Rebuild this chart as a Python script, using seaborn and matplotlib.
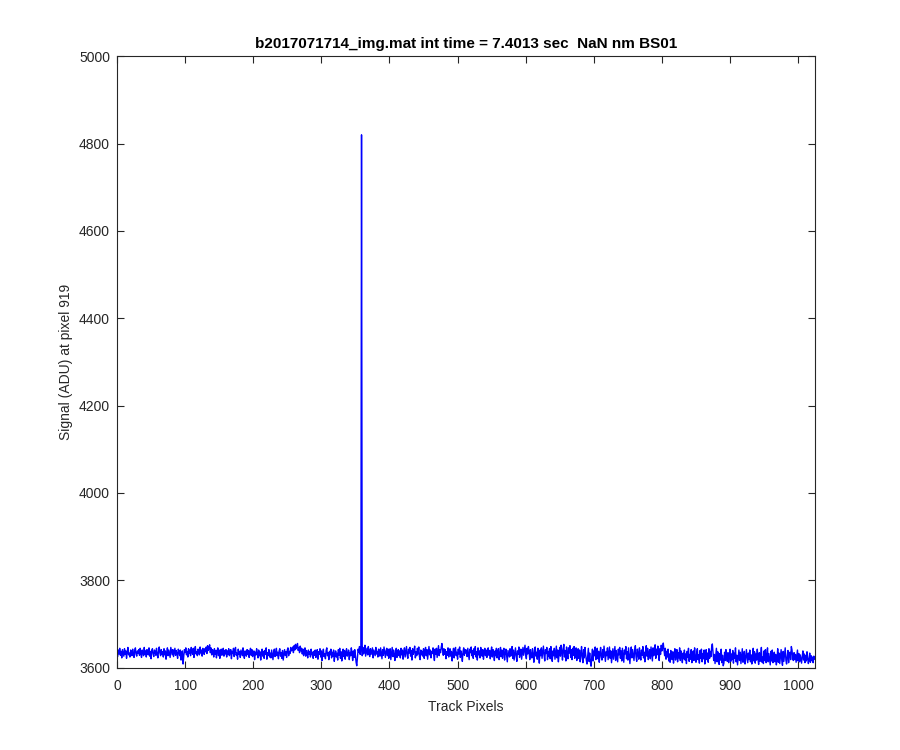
import matplotlib
matplotlib.use("Agg")
import matplotlib.pyplot as plt
import seaborn as sns
import pandas as pd

# Signal values (ADU), one per track pixel
signal_rows = [
 [3625,3640,3631,3644,3628,3637,3622,3641,3634,3626,3643,3630,3638,3621,3635,3646,3629,3633,3624,3640,3636,3627,3642,3631,3623,3639,3645,3630,3626,3638,3633,3641],
 [3628,3644,3632,3623,3640,3635,3627,3646,3630,3638,3624,3641,3633,3629,3645,3626,3637,3620,3639,3643,3631,3625,3640,3636,3628,3644,3630,3622,3638,3647,3633,3627],
 [3641,3630,3636,3624,3643,3629,3638,3619,3634,3645,3627,3640,3632,3623,3646,3637,3629,3641,3625,3635,3644,3628,3639,3631,3621,3642,3636,3627,3640,3617,3633,3638],
 [3608,3626,3641,3634,3645,3629,3637,3624,3643,3632,3640,3627,3646,3635,3630,3644,3623,3639,3648,3631,3636,3627,3642,3638,3629,3647,3633,3640,3626,3644,3635,3630],
 [3643,3636,3647,3632,3650,3639,3644,3652,3634,3645,3629,3641,3637,3624,3643,3630,3639,3622,3638,3645,3627,3640,3621,3635,3642,3628,3637,3644,3626,3639,3631,3641],
 [3624,3638,3630,3643,3627,3635,3641,3620,3637,3632,3644,3625,3639,3646,3628,3633,3619,3642,3630,3637,3623,3640,3634,3627,3645,3629,3621,3638,3635,3626,3641,3630],
 [3639,3623,3636,3644,3628,3641,3625,3634,3638,3618,3635,3629,3643,3631,3622,3640,3627,3636,3617,3633,3642,3626,3637,3621,3639,3630,3645,3619,3634,3628,3641,3624],
 [3633,3622,3640,3629,3618,3636,3642,3625,3631,3644,3627,3635,3620,3638,3643,3626,3634,3621,3639,3617,3630,3641,3628,3636,3623,3640,3645,3627,3637,3632,3646,3638],
 [3641,3647,3634,3650,3640,3653,3643,3648,3655,3639,3646,3634,3649,3638,3644,3631,3642,3627,3637,3645,3626,3639,3633,3622,3640,3630,3636,3624,3642,3629,3635,3621],
 [3637,3628,3640,3623,3634,3641,3619,3636,3630,3643,3624,3638,3616,3633,3642,3625,3631,3620,3639,3645,3627,3634,3618,3637,3629,3642,3622,3635,3626,3640,3614,3631],
 [3638,3624,3633,3617,3641,3628,3644,3621,3636,3615,3630,3642,3625,3639,3619,3634,3643,3626,3631,3640,3618,3635,3627,3645,3632,3616,3638,3623,3641,3629,3612,3604],
 [3624,3642,3635,3648,3630,3640,4820,3627,3646,3631,3638,3651,3626,3635,3644,3629,3648,3633,3625,3643,3630,3638,3645,3622,3640,3634,3627,3646,3631,3637,3624,3642],
 [3639,3626,3645,3632,3620,3641,3628,3647,3634,3623,3638,3644,3627,3642,3621,3636,3643,3618,3633,3646,3625,3640,3630,3616,3637,3644,3623,3635,3641,3627,3638,3622],
 [3644,3629,3640,3619,3635,3645,3624,3637,3648,3628,3621,3642,3633,3646,3626,3639,3617,3643,3630,3638,3649,3622,3636,3627,3644,3631,3647,3625,3618,3640,3629,3637],
 [3626,3643,3621,3638,3646,3627,3641,3619,3634,3648,3629,3640,3622,3637,3632,3645,3628,3616,3642,3630,3644,3623,3636,3650,3627,3641,3634,3646,3655,3640,3628,3643],
 [3630,3641,3620,3636,3628,3645,3624,3639,3643,3626,3637,3615,3632,3644,3622,3640,3646,3627,3635,3619,3642,3631,3647,3623,3638,3629,3614,3636,3645,3628,3641,3633],
 [3640,3625,3644,3631,3618,3642,3634,3647,3627,3639,3621,3643,3630,3648,3624,3636,3617,3645,3629,3638,3622,3646,3633,3626,3641,3619,3635,3644,3627,3640,3623,3637],
 [3645,3628,3639,3620,3636,3647,3624,3641,3632,3616,3638,3627,3644,3622,3635,3643,3618,3630,3646,3625,3640,3621,3637,3644,3617,3633,3642,3628,3613,3639,3631,3624],
 [3643,3626,3635,3648,3621,3640,3617,3632,3645,3627,3614,3638,3630,3647,3623,3636,3642,3619,3633,3646,3628,3639,3651,3629,3620,3644,3631,3648,3636,3618,3641,3627],
 [3622,3643,3630,3612,3639,3647,3626,3635,3619,3644,3631,3610,3640,3627,3645,3621,3636,3649,3628,3615,3641,3632,3646,3618,3637,3625,3643,3620,3648,3629,3614,3638],
 [3627,3644,3619,3635,3649,3622,3640,3613,3631,3646,3626,3651,3636,3617,3643,3653,3624,3639,3615,3647,3630,3620,3645,3633,3650,3623,3641,3618,3644,3628,3648,3621],
 [3636,3645,3616,3632,3643,3621,3640,3613,3629,3648,3624,3611,3641,3622,3646,3630,3617,3608,3627,3644,3614,3633,3612,3603,3625,3642,3615,3638,3627,3647,3618,3635],
 [3644,3620,3637,3612,3631,3646,3624,3617,3641,3623,3649,3630,3614,3636,3627,3645,3618,3633,3647,3621,3638,3611,3628,3643,3619,3634,3648,3616,3639,3626,3613,3642],
 [3629,3646,3621,3638,3615,3644,3627,3612,3640,3631,3648,3620,3636,3617,3645,3626,3609,3633,3647,3622,3641,3628,3616,3639,3650,3624,3614,3642,3632,3619,3645,3627],
 [3617,3640,3628,3648,3622,3635,3613,3638,3650,3626,3644,3618,3633,3641,3620,3647,3631,3615,3645,3627,3637,3652,3621,3642,3629,3649,3634,3616,3643,3630,3651,3638],
 [3646,3656,3640,3627,3644,3619,3637,3624,3642,3615,3631,3612,3639,3625,3618,3636,3610,3629,3643,3617,3627,3641,3613,3634,3622,3645,3616,3638,3626,3611,3633,3620],
 [3640,3617,3631,3609,3637,3623,3644,3614,3630,3619,3641,3611,3627,3638,3616,3645,3624,3612,3633,3643,3618,3629,3610,3639,3621,3642,3613,3632,3620,3640,3608,3626],
 [3641,3618,3633,3612,3643,3621,3637,3625,3646,3654,3634,3616,3630,3609,3627,3644,3613,3636,3620,3607,3632,3617,3642,3611,3628,3604,3610,3635,3616,3641,3622,3614],
 [3634,3611,3625,3642,3614,3631,3618,3639,3610,3633,3621,3645,3613,3628,3606,3624,3640,3616,3635,3609,3627,3643,3612,3622,3637,3608,3619,3641,3626,3611,3633,3618],
 [3640,3613,3629,3608,3623,3644,3615,3636,3610,3631,3617,3642,3620,3607,3634,3614,3628,3646,3612,3624,3609,3638,3616,3641,3611,3626,3645,3613,3632,3618,3606,3637],
 [3615,3640,3611,3627,3635,3613,3630,3606,3619,3643,3612,3633,3609,3624,3641,3616,3605,3637,3614,3629,3645,3617,3608,3626,3639,3611,3631,3635,3618,3648,3640,3620],
 [3616,3634,3618,3630,3612,3627,3640,3615,3632,3613,3629,3620,3610,3626,3638,3617,3631,3611,3628,3615,3636,3621,3609,3619,3633,3612,3627,3616,3624,3611,3626,3619],
]
signal = [v for row in signal_rows for v in row]
track_pixels = list(range(1, len(signal) + 1))

x_ticks = [0, 100, 200, 300, 400, 500, 600, 700, 800, 900, 1000]
y_ticks = [3600, 3800, 4000, 4200, 4400, 4600, 4800, 5000]

title_text = "b2017071714_img.mat int time = 7.4013 sec  NaN nm BS01"
x_label = "Track Pixels"
y_label = "Signal (ADU) at pixel 919"

sns.set_style("ticks")
plt.rcParams['font.family'] = ['Liberation Sans', 'DejaVu Sans']

df = pd.DataFrame({"pixel": track_pixels, "signal": signal})

fig = plt.figure(figsize=(9, 7.5), dpi=100)
fig.patch.set_facecolor("white")
ax = fig.add_axes([0.13, 0.11, 0.775, 0.815])

sns.lineplot(data=df, x="pixel", y="signal", color="#0000ff", linewidth=1.0,
             estimator=None, ax=ax)

ax.set_xlim(0, 1024)
ax.set_ylim(3600, 5000)
ax.set_xticks(x_ticks)
ax.set_yticks(y_ticks)
ax.set_xticklabels([str(t) for t in x_ticks])
ax.set_yticklabels([str(t) for t in y_ticks])

axis_color = "#262626"
for sp in ax.spines.values():
    sp.set_visible(True)
    sp.set_color(axis_color)
    sp.set_linewidth(0.8)
ax.tick_params(direction="in", top=True, right=True, length=5, width=0.8,
               color=axis_color, labelcolor=axis_color, labelsize=10, pad=8)
ax.tick_params(axis="y", pad=5)

ax.set_xlabel(x_label, fontsize=10, color=axis_color, labelpad=5)
ax.set_ylabel(y_label, fontsize=10, color=axis_color, labelpad=4)
ax.set_title(title_text, fontsize=11, fontweight="bold", color="black", pad=6)

fig.savefig("out.png", dpi=100, facecolor="white")
